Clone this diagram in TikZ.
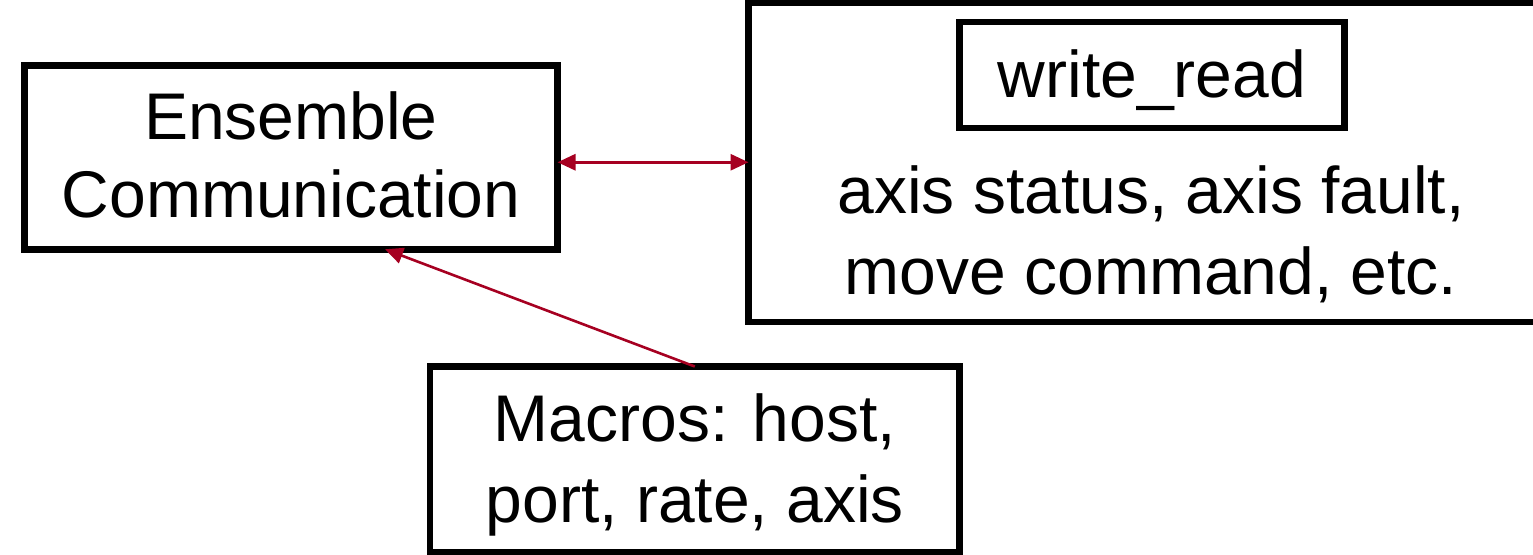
\documentclass[tikz,border=0pt]{standalone}
\usepackage{fontspec}
\setmainfont{Liberation Sans}
\usetikzlibrary{arrows.meta}

\definecolor{linkred}{RGB}{166,0,33}

\tikzset{
  box/.style={draw=black, line width=6.5pt, outer sep=0pt, inner sep=0pt, fill=white},
  lbl/.style={align=center, inner sep=0pt, outer sep=0pt},
  bigfont/.style={font=\fontsize{66}{#1}\selectfont},
  link/.style={draw=linkred, line width=3pt}
}
% invisible struts that tune where a label sits inside its box
\newcommand{\uplift}[1]{\rule{0pt}{#1}}
\newcommand{\downdrop}[1]{\rule[-#1]{0pt}{0pt}}

\begin{document}
\begin{tikzpicture}[x=1pt, y=-1pt]
  \useasboundingbox (0,0) rectangle (1533,554);

  % left block
  \node[box, lbl, bigfont=78, minimum width=533pt, minimum height=184pt]
    (ens) at (291,157.25) {Ensemble\\Communication\downdrop{6pt}};

  % right block with its title box and description
  \node[box, minimum width=796.5pt, minimum height=319.5pt]
    (big) at (1146.75,162.25) {};
  \node[box, lbl, bigfont=78, minimum width=385pt, minimum height=106pt]
    (wr) at (1152,75) {\uplift{58pt}write\_read};
  \node[lbl, bigfont=81] (desc) at (1151,234) {axis status, axis fault,\\move command, etc.};

  % bottom block
  \node[box, lbl, bigfont=81, minimum width=529.6pt, minimum height=186pt]
    (mac) at (694.8,459.5) {\uplift{59pt}Macros: host,\\port, rate, axis};

  % connectors
  \draw[link, {Triangle[length=18pt, width=16pt]}-{Triangle[length=18pt, width=16pt]}]
    (ens.east |- big.west) -- (big.west);
  \draw[link, line width=2.6pt, -{Triangle[length=18pt, width=16pt]}]
    (mac.north) -- ([xshift=94pt]ens.south);
\end{tikzpicture}
\end{document}
